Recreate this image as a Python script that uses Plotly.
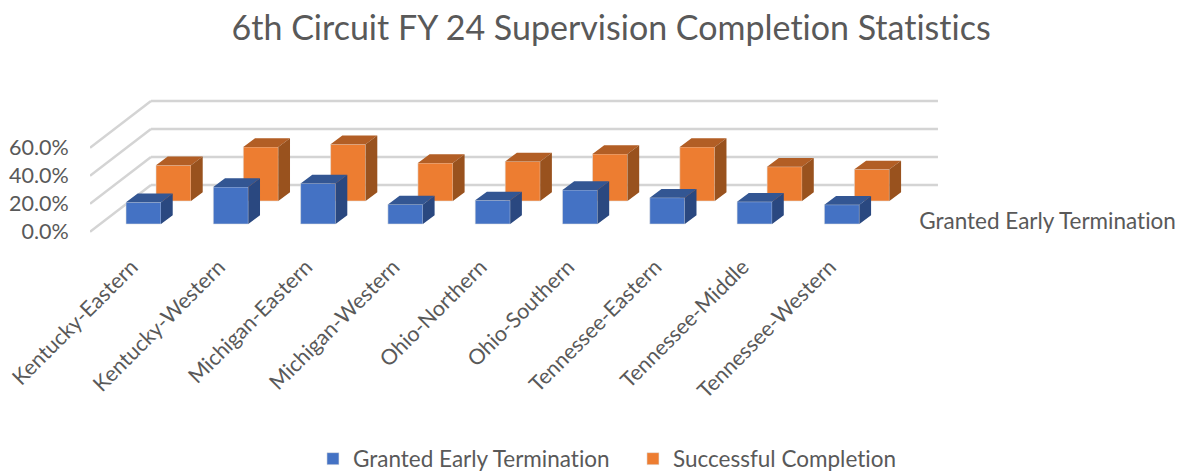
import plotly.graph_objects as go

categories = ["Kentucky-Eastern", "Kentucky-Western", "Michigan-Eastern", "Michigan-Western",
              "Ohio-Northern", "Ohio-Southern", "Tennessee-Eastern", "Tennessee-Middle", "Tennessee-Western"]
granted = [15.5, 26.4, 29.0, 14.0, 16.9, 24.3, 18.8, 15.9, 13.8]
successful = [25.5, 38.6, 40.5, 27.1, 28.3, 33.6, 38.6, 24.5, 22.6]
y_ticks = [0, 20, 40, 60]
y_tick_labels = ["0.0%", "20.0%", "40.0%", "60.0%"]

FONT = "Lato"
TEXT = "#595959"
PX_X = 87.3
PX_Y = 1.4
BAR_W = 35 / PX_X
DEPTH_X = 11.7 / PX_X
DEPTH_Y = 8.7 / PX_Y
FRONT_BASE = 7.7 / PX_Y
ROW_X = 30 / PX_X
ROW_BASE = FRONT_BASE + 23 / PX_Y
WALL_X = 61 / PX_X
WALL_Y = 46.7 / PX_Y
X_LEFT = -0.613
X_RIGHT = 9.124
WALL_LEFT = X_LEFT
WALL_RIGHT = (938 - 143.5) / PX_X
LABEL_SHIFT = -0.137

fig = go.Figure()


def box_traces(name, vals, xshift, base, front, top, side, rank):
    fig.add_trace(go.Bar(x=[i + xshift for i in range(len(vals))], y=vals, base=base, width=BAR_W,
                         name=name, legendrank=rank,
                         marker=dict(color=front, line=dict(width=0.8, color="rgba(225,225,225,0.7)")),
                         hoverinfo="skip"))
    tx, ty, sx, sy = [], [], [], []
    for i, v in enumerate(vals):
        l = i + xshift - BAR_W / 2
        r = l + BAR_W
        t = base + v
        tx += [l, r, r + DEPTH_X, l + DEPTH_X, l, None]
        ty += [t, t, t + DEPTH_Y, t + DEPTH_Y, t, None]
        sx += [r, r + DEPTH_X, r + DEPTH_X, r, r, None]
        sy += [t, t + DEPTH_Y, base + DEPTH_Y, base, t, None]
    for xs, ys, c in ((tx, ty, top), (sx, sy, side)):
        fig.add_trace(go.Scatter(x=xs, y=ys, mode="lines", fill="toself", fillcolor=c, line=dict(width=0),
                                 showlegend=False, hoverinfo="skip"))


box_traces("Successful Completion", successful, ROW_X, ROW_BASE, "#ED7D31", "#B25E25", "#99521E", 2)
box_traces("Granted Early Termination", granted, 0, FRONT_BASE, "#4472C4", "#335693", "#2A4880", 1)

shapes = []
for v in y_ticks:
    common = dict(type="line", xref="x", yref="y", layer="below", line=dict(color="#D4D4D4", width=2.5))
    shapes.append(dict(x0=WALL_LEFT, y0=v, x1=WALL_LEFT + WALL_X, y1=v + WALL_Y, **common))
    shapes.append(dict(x0=WALL_LEFT + WALL_X, y0=v + WALL_Y, x1=WALL_RIGHT, y1=v + WALL_Y, **common))

fig.update_layout(
    width=1182, height=472, autosize=False,
    margin=dict(l=90, r=242, t=90, b=232),
    paper_bgcolor="white", plot_bgcolor="white",
    barmode="overlay", shapes=shapes,
    font=dict(family=FONT, color=TEXT),
    title=dict(text="6th Circuit FY 24 Supervision Completion Statistics", x=0.517, xanchor="center",
               y=0.94, yanchor="middle", font=dict(size=34, color=TEXT, family=FONT)),
    legend=dict(orientation="h", x=0.5355, xanchor="center", xref="container",
                y=0.0275, yanchor="middle", yref="container",
                entrywidth=275, entrywidthmode="pixels",
                font=dict(size=22.5, color=TEXT, family=FONT)),
    xaxis=dict(range=[X_LEFT, X_RIGHT], tickmode="array", automargin=False,
               tickvals=[i + LABEL_SHIFT for i in range(len(categories))],
               ticktext=categories, tickangle=-45, showgrid=False, zeroline=False, showline=False,
               ticks="outside", ticklen=5, tickcolor="rgba(0,0,0,0)", tickfont=dict(size=21.4, color=TEXT)),
    yaxis=dict(range=[-5.9, 101.2], tickmode="array", tickvals=y_ticks, ticktext=y_tick_labels, automargin=False,
               showgrid=False, zeroline=False, showline=False, ticks="outside", ticklen=16,
               tickcolor="rgba(0,0,0,0)", tickfont=dict(size=21.5, color=TEXT)),
    annotations=[dict(text="Granted Early Termination", xref="paper", yref="paper", x=1.127, y=0.127,
                      xanchor="center", yanchor="middle", showarrow=False,
                      font=dict(size=22.5, color=TEXT, family=FONT))],
)
fig.write_html(
    "out.html",
    config={"displayModeBar": False},
    post_script="document.body.style.margin='0';"
                "var s=document.createElement('style');"
                "s.textContent='text{font-variant-ligatures:none !important;font-feature-settings:\"liga\" 0,\"clig\" 0 !important}';"
                "document.head.appendChild(s);",
)
